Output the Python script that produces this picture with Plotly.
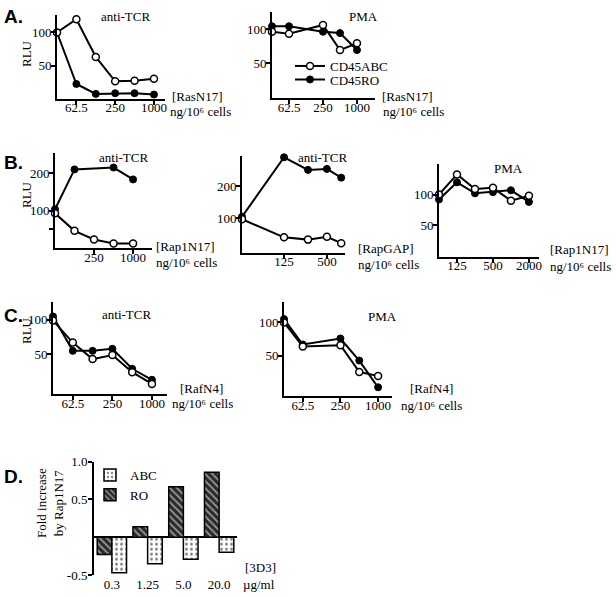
import plotly.graph_objects as go

W, H = 616, 597

# ---------------- DATA ----------------
# Panel A: RasN17 titration (x = dose step; 0 = no plasmid)
A_tcr_x = [0, 1, 2, 3, 4, 5]
A_tcr_abc = [100, 120, 63, 26, 27, 30]
A_tcr_ro = [100, 22, 7, 8, 8, 6]
A_pma_x = [0, 1, 3, 4, 5]
A_pma_abc = [96, 93, 106, 69, 79]
A_pma_ro = [104, 104, 96, 94, 69]
A_xticks = [1, 3, 5]
A_xlabels = ["62.5", "250", "1000"]

# Panel B: Rap1N17 / RapGAP
B1_x_abc = [0, 1, 2, 3, 4]
B1_abc = [93, 46, 23, 12, 12]
B1_x_ro = [0, 1, 3, 4]
B1_ro = [104, 211, 216, 184]
B1_xticks = [2, 4]
B1_xlabels = ["250", "1000"]

B2_x = [0, 1.0, 1.57, 2.02, 2.36]
B2_abc = [97, 41, 34, 43, 23]
B2_ro = [105, 289, 250, 253, 226]
B2_xticks = [1.0, 2.02]
B2_xlabels = ["125", "500"]

B3_x = [0, 1, 2, 3, 4, 5]
B3_abc = [100, 133, 109, 111, 90, 98]
B3_ro = [92, 120, 102, 104, 107, 88]
B3_xticks = [1, 3, 5]
B3_xlabels = ["125", "500", "2000"]

# Panel C: RafN4
C1_x = [0, 1, 2, 3, 4, 5]
C1_abc = [99, 67, 43, 49, 24, 7]
C1_ro = [105, 55, 55, 58, 29, 13]
C2_x = [0, 1, 3, 4, 5]
C2_abc = [100, 64, 66, 26, 20]
C2_ro = [105, 67, 76, 43, 3]
C_xticks = [1, 3, 5]
C_xlabels = ["62.5", "250", "1000"]

# Panel D: fold increase by Rap1N17
D_cats = ["0.3", "1.25", "5.0", "20.0"]
D_ro = [-0.23, 0.14, 0.67, 0.86]
D_abc = [-0.47, -0.35, -0.29, -0.20]

# ---------------- LAYOUT HELPERS ----------------
SERIF = "Liberation Serif, Times New Roman, serif"
SANS = "Liberation Sans, Arial, sans-serif"
FS = 13


def dx(x0, x1):
    return [x0 / W, x1 / W]


def dy(ytop, ybot):
    return [1 - ybot / H, 1 - ytop / H]


fig = go.Figure()

panels = [
    # id, x0, x1, ytop, ybot, xrange, yrange, xticks, xlabels, yticks, ylabels
    ("", 57, 165, 15, 98.5, [0, 5.57], [0, 126.5], A_xticks, A_xlabels, [50, 100], ["50", "100"]),
    ("2", 272, 375, 12, 98, [0, 6.06], [-1.5, 125], A_xticks, A_xlabels, [50, 100], ["50", "100"]),
    ("3", 55, 152, 153, 248, [0, 4.97], [0, 255], B1_xticks, B1_xlabels, [50, 100, 200], ["", "100", "200"]),
    ("4", 242, 345, 156, 252.7, [0, 2.45], [-6.5, 293], B2_xticks, B2_xlabels, [100, 200], ["100", "200"]),
    ("5", 439, 539, 164, 256.7, [0, 5.56], [-1.6, 150], B3_xticks, B3_xlabels, [50, 100], ["50", "100"]),
    ("6", 53, 167, 302, 394, [0, 5.76], [-7.7, 126], C_xticks, C_xlabels, [50, 100], ["50", "100"]),
    ("7", 284, 392, 301.7, 396, [0, 5.74], [-10, 131], C_xticks, C_xlabels, [50, 100], ["50", "100"]),
]

axis_common = dict(
    showline=True, linecolor="black", linewidth=2, showgrid=False, zeroline=False,
    ticks="outside", ticklen=4, tickwidth=1.5, tickcolor="black",
    tickfont=dict(family=SERIF, size=FS, color="black"),
)

for pid, x0, x1, yt, yb, xr, yr, xt, xl, yt_, yl in panels:
    fig.layout["xaxis" + pid] = dict(
        domain=dx(x0, x1), range=xr, anchor="y" + pid, ticklabelstandoff=-8,
        tickmode="array", tickvals=xt, ticktext=xl, **axis_common)
    fig.layout["yaxis" + pid] = dict(
        domain=dy(yt, yb), range=yr, anchor="x" + pid, ticklabelstandoff=-3,
        tickmode="array", tickvals=yt_, ticktext=yl, **axis_common)

open_m = dict(symbol="circle", size=7, color="white", line=dict(color="black", width=1.5))
fill_m = dict(symbol="circle", size=7, color="black", line=dict(color="black", width=1))
line_s = dict(color="black", width=2)


def add_pair(pid, x_abc, y_abc, x_ro, y_ro, legend=False):
    ax = "x" + pid
    ay = "y" + pid
    fig.add_trace(go.Scatter(x=x_ro, y=y_ro, mode="lines+markers", line=line_s, marker=fill_m,
                             xaxis=ax, yaxis=ay, cliponaxis=False, name="CD45RO",
                             showlegend=legend, legend="legend3"))
    fig.add_trace(go.Scatter(x=x_abc, y=y_abc, mode="lines+markers", line=line_s, marker=open_m,
                             xaxis=ax, yaxis=ay, cliponaxis=False, name="CD45ABC",
                             showlegend=legend, legend="legend"))


add_pair("", A_tcr_x, A_tcr_abc, A_tcr_x, A_tcr_ro)
add_pair("2", A_pma_x, A_pma_abc, A_pma_x, A_pma_ro, legend=True)
add_pair("3", B1_x_abc, B1_abc, B1_x_ro, B1_ro)
add_pair("4", B2_x, B2_abc, B2_x, B2_ro)
add_pair("5", B3_x, B3_abc, B3_x, B3_ro)
add_pair("6", C1_x, C1_abc, C1_x, C1_ro)
add_pair("7", C2_x, C2_abc, C2_x, C2_ro)

# Panel D bars
fig.layout["xaxis8"] = dict(domain=dx(94, 237), anchor="y8", type="category", range=[-0.5, 3.5],
                            showline=False, showgrid=False, zeroline=False, ticks="",
                            tickfont=dict(family=SERIF, size=FS, color="black"))
fig.layout["yaxis8"] = dict(domain=dy(461.7, 575), anchor="x8", range=[-0.5, 1.0],
                            showline=True, linecolor="black", linewidth=2, showgrid=False,
                            zeroline=True, zerolinecolor="black", zerolinewidth=2,
                            ticks="outside", ticklen=4, tickwidth=1.5, tickcolor="black",
                            ticklabelstandoff=-2,
                            tickmode="array", tickvals=[-0.5, 0.5, 1.0], ticktext=["-0.5", "0.5", "1.0"],
                            tickfont=dict(family=SERIF, size=FS, color="black"))

fig.add_trace(go.Bar(x=D_cats, y=D_ro, name="RO", xaxis="x8", yaxis="y8", legend="legend2",
                     marker=dict(color="#2a2a2a", line=dict(color="black", width=1.5),
                                 pattern=dict(shape="\\", fgcolor="white", bgcolor="#2a2a2a",
                                              size=5, solidity=0.35))))
fig.add_trace(go.Bar(x=D_cats, y=D_abc, name="ABC", xaxis="x8", yaxis="y8", legend="legend2",
                     marker=dict(color="white", line=dict(color="black", width=1.5),
                                 pattern=dict(shape=".", fgcolor="black", bgcolor="white",
                                              size=5, solidity=0.25))))

fig.update_layout(
    width=W, height=H, autosize=False,
    margin=dict(l=0, r=0, t=0, b=0, autoexpand=False),
    paper_bgcolor="white", plot_bgcolor="white",
    barmode="group", bargap=0.18, bargroupgap=0,
    font=dict(family=SERIF, size=FS, color="black"),
    legend=dict(x=290 / W, y=1 - 66 / H, xanchor="left", yanchor="middle", bgcolor="rgba(0,0,0,0)",
                font=dict(family=SERIF, size=FS), itemwidth=30, tracegroupgap=0),
    legend3=dict(x=290 / W, y=1 - 79.5 / H, xanchor="left", yanchor="middle", bgcolor="rgba(0,0,0,0)",
                 font=dict(family=SERIF, size=FS), itemwidth=30, tracegroupgap=0),
    legend2=dict(x=90 / W, y=1 - 485 / H, xanchor="left", yanchor="middle", bgcolor="rgba(0,0,0,0)",
                 font=dict(family=SERIF, size=FS), itemwidth=30, traceorder="reversed",
                 tracegroupgap=0),
)

anns = []


def txt(x, y, s, size=FS, family=SERIF, xanchor="left", angle=0, bold=False):
    if bold:
        s = "<b>" + s + "</b>"
    anns.append(dict(x=x / W, y=1 - y / H, xref="paper", yref="paper", text=s, showarrow=False,
                     xanchor=xanchor, yanchor="middle", textangle=angle,
                     font=dict(family=family, size=size, color="black")))


# panel letters
txt(2, 16, "A.", size=19, family=SANS, bold=True)
txt(2, 162, "B.", size=19, family=SANS, bold=True)
txt(2, 315, "C.", size=19, family=SANS, bold=True)
txt(2, 476, "D.", size=19, family=SANS, bold=True)

# RLU axis titles
txt(27, 54, "RLU", xanchor="center", angle=-90)
txt(27, 195, "RLU", xanchor="center", angle=-90)
txt(26, 331, "RLU", xanchor="center", angle=-90)

# condition titles
txt(125, 16, "anti-TCR", xanchor="center")
txt(363, 17, "PMA", xanchor="center")
txt(123, 157, "anti-TCR", xanchor="center")
txt(322, 157, "anti-TCR", xanchor="center")
txt(508, 169, "PMA", xanchor="center")
txt(126, 314, "anti-TCR", xanchor="center")
txt(382, 316, "PMA", xanchor="center")

unit = "ng/10⁶ cells"
txt(170, 97, "[RasN17]")
txt(168, 112, unit)
txt(380, 97, "[RasN17]")
txt(381, 112, unit)
txt(154, 246, "[Rap1N17]")
txt(154, 262, unit)
txt(356, 248, "[RapGAP]")
txt(356, 264, unit)
txt(548, 250, "[Rap1N17]")
txt(548, 266, unit)
txt(178, 388, "[RafN4]")
txt(170, 403, unit)
txt(408, 388, "[RafN4]")
txt(399, 405, unit)

# panel D texts
txt(50, 503, "Fold increase<br>by Rap1N17", xanchor="center", angle=-90)
txt(243, 567, "[3D3]")
txt(241, 584, "µg/ml")

fig.update_layout(annotations=anns)

fig.write_html("out.html", config={"displayModeBar": False},
               post_script="document.body.style.margin='0';document.body.style.overflow='hidden';")
